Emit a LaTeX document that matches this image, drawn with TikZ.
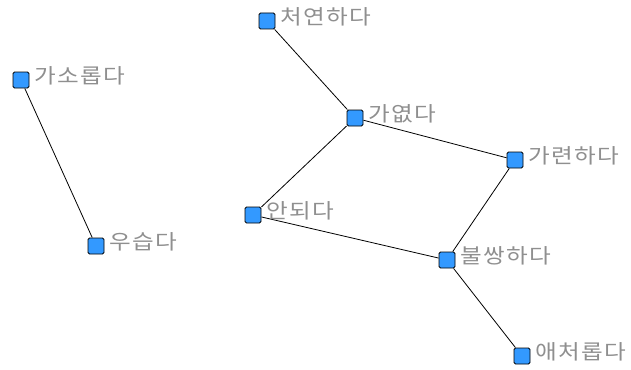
\documentclass[tikz,border=0pt]{standalone}
\usepackage{fontspec}
\newfontfamily\kr[FakeStretch=1.15,LetterSpace=6]{Noto Sans CJK KR}
\definecolor{nodeblue}{HTML}{3399FF}
\definecolor{labelgrey}{HTML}{8F8F8F}
\begin{document}
\begin{tikzpicture}[x=1pt,y=-1pt,
  sq/.style={draw=black,fill=nodeblue,rounded corners=1.5pt,minimum size=16pt,inner sep=0pt,line width=0.9pt},
  lbl/.style={anchor=west,text=labelgrey,font=\kr\fontsize{20.5}{21}\selectfont,inner sep=0pt,yshift=4pt,xshift=5pt},
  edge/.style={draw=black,line width=0.8pt}]
\useasboundingbox (0,0) rectangle (631,369);
\node[sq] (a) at (21,80) {};
\node[sq] (b) at (96,246) {};
\node[sq] (c) at (267,21) {};
\node[sq] (d) at (355,118) {};
\node[sq] (e) at (515,160) {};
\node[sq] (f) at (253,215) {};
\node[sq] (g) at (447,260) {};
\node[sq] (h) at (522,356) {};
\draw[edge] (a) -- (b);
\draw[edge] (c) -- (d);
\draw[edge] (d) -- (e);
\draw[edge] (d) -- (f);
\draw[edge] (f) -- (g);
\draw[edge] (e) -- (g);
\draw[edge] (g) -- (h);
\node[lbl] (ta) at (a.east) {가소롭다};
\node[lbl] (tb) at (b.east) {우습다};
\node[lbl] (tc) at (c.east) {처연하다};
\node[lbl] (td) at (d.east) {가엾다};
\node[lbl] (te) at (e.east) {가련하다};
\node[lbl] (tf) at (f.east) {안되다};
\node[lbl] (tg) at (g.east) {불쌍하다};
\node[lbl] (th) at (h.east) {애처롭다};
\end{tikzpicture}
\end{document}
